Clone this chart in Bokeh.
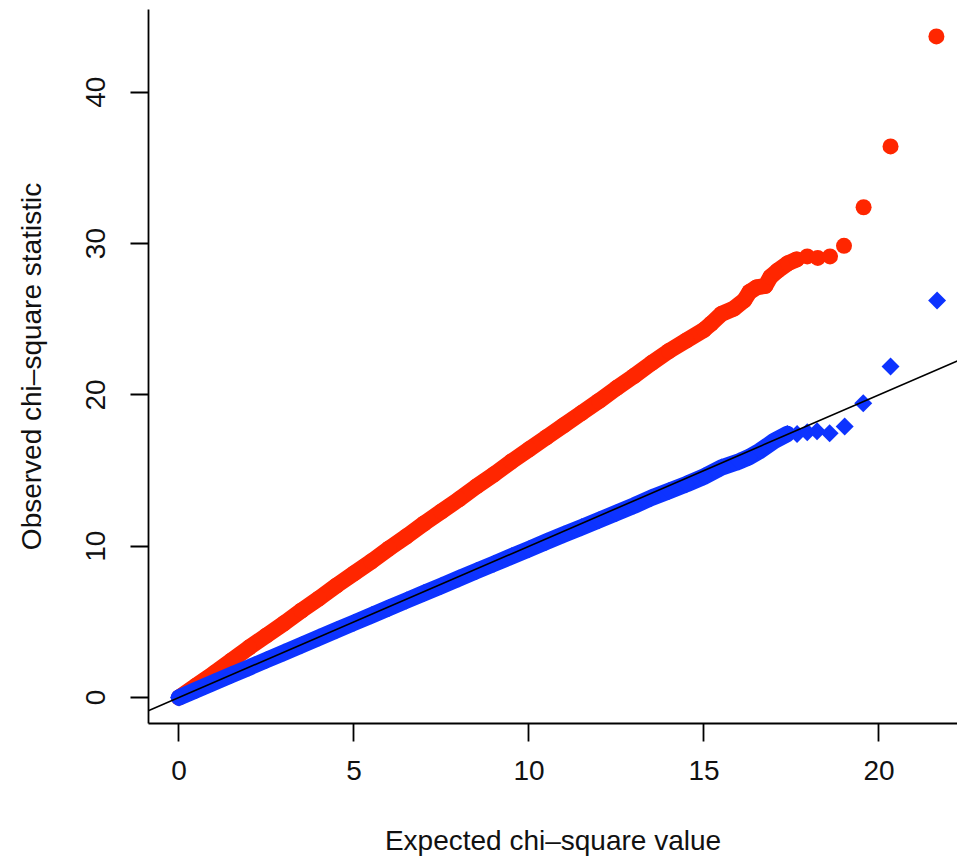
import numpy as np
from bokeh.plotting import figure
from bokeh.models import FixedTicker, Range1d, Slope
from bokeh.embed import file_html
from bokeh.resources import INLINE

# ---- data ----
red_expected = [0.0, 0.5, 1.0, 1.5, 2.0, 2.5, 3.0, 3.5, 4.0, 4.5, 5.0, 5.5, 6.0, 6.5,
                7.0, 7.5, 8.0, 8.5, 9.0, 9.5, 10.0, 10.5, 11.0, 11.5, 12.0, 12.5, 13.0,
                13.5, 14.0, 14.5, 15.0, 15.2, 15.5, 15.85, 16.15, 16.3, 16.5, 16.75,
                16.9, 17.1, 17.4, 17.65, 17.95, 18.25, 18.6, 19.0, 19.56, 20.33, 21.64]
red_observed = [0.0, 0.8, 1.6, 2.45, 3.3, 4.1, 4.9, 5.75, 6.55, 7.4, 8.2, 9.0, 9.85, 10.65,
                11.5, 12.3, 13.1, 13.95, 14.75, 15.6, 16.4, 17.2, 18.0, 18.8, 19.6, 20.45,
                21.25, 22.1, 22.9, 23.6, 24.3, 24.7, 25.35, 25.7, 26.25, 26.8, 27.1, 27.2,
                27.8, 28.2, 28.7, 28.95, 29.15, 29.05, 29.15, 29.85, 32.4, 36.42, 43.69]
red_dense_count = 42  # points that merge into a continuous band

blue_expected = [0.0, 0.5, 1.0, 1.5, 2.0, 2.5, 3.0, 3.5, 4.0, 4.5, 5.0, 5.5, 6.0, 6.5,
                 7.0, 7.5, 8.0, 8.5, 9.0, 9.5, 10.0, 10.5, 11.0, 11.5, 12.0, 12.5, 13.0,
                 13.5, 14.0, 14.5, 15.0, 15.5, 16.0, 16.3, 16.6, 17.0, 17.38, 17.66,
                 17.95, 18.23, 18.59, 19.02, 19.55, 20.33, 21.66]
blue_observed = [0.0, 0.5, 1.0, 1.5, 1.98, 2.48, 2.97, 3.46, 3.96, 4.45, 4.94, 5.43, 5.92,
                 6.41, 6.9, 7.38, 7.87, 8.36, 8.84, 9.33, 9.8, 10.3, 10.78, 11.25, 11.72,
                 12.2, 12.68, 13.2, 13.65, 14.1, 14.6, 15.2, 15.6, 15.9, 16.3, 16.95,
                 17.42, 17.42, 17.53, 17.6, 17.47, 17.91, 19.45, 21.88, 26.24]
blue_dense_count = 37

x_ticks = [0, 5, 10, 15, 20]
y_ticks = [0, 10, 20, 30, 40]
ref_gradient = 1.0
ref_intercept = 0.0

RED = "#ff2600"
BLUE = "#0d33ff"
FONT = "Liberation Sans"

p = figure(width=957, height=861, output_backend="svg", toolbar_location=None,
           x_range=Range1d(-0.8714, 22.243), y_range=Range1d(-1.718, 45.47),
           min_border_left=148, min_border_right=0, min_border_top=9,
           min_border_bottom=138)
p.frame_width = 809
p.frame_height = 714
p.outline_line_color = None
p.background_fill_color = "white"
p.border_fill_color = "white"
p.xgrid.visible = False
p.ygrid.visible = False

# red band + points
p.line(red_expected[:red_dense_count], red_observed[:red_dense_count], line_color=RED,
       line_width=16, line_cap="round", line_join="round")
p.scatter(red_expected, red_observed, marker="circle", size=16,
          fill_color=RED, line_color=None)

# blue band + points
p.line(blue_expected[:blue_dense_count], blue_observed[:blue_dense_count],
       line_color=BLUE, line_width=16.5, line_cap="round", line_join="round")
p.scatter(blue_expected, blue_observed, marker="square", angle=np.pi / 4, size=12.7,
          fill_color=BLUE, line_color=None)

p.add_layout(Slope(gradient=ref_gradient, y_intercept=ref_intercept,
                   line_color="black", line_width=1.6))

for ax in (p.xaxis[0], p.yaxis[0]):
    ax.axis_line_color = "black"
    ax.axis_line_width = 1.8
    ax.major_tick_line_color = "black"
    ax.major_tick_line_width = 1.8
    ax.major_tick_in = 0
    ax.major_tick_out = 18
    ax.minor_tick_line_color = None
    ax.major_label_text_font = FONT
    ax.major_label_text_font_size = "28px"
    ax.major_label_text_color = "#111111"
    ax.axis_label_text_font = FONT
    ax.axis_label_text_font_size = "28px"
    ax.axis_label_text_font_style = "normal"
    ax.axis_label_text_color = "#111111"

p.xaxis.ticker = FixedTicker(ticks=x_ticks)
p.yaxis.ticker = FixedTicker(ticks=y_ticks)
p.xaxis.axis_label = "Expected chi\u2013square value"
p.yaxis.axis_label = "Observed chi\u2013square statistic"
p.yaxis.major_label_orientation = "vertical"
p.xaxis.major_label_standoff = 19
p.yaxis.major_label_standoff = 25
p.xaxis.axis_label_standoff = 42
p.yaxis.axis_label_standoff = 37

open("out.html", "w").write(file_html(p, INLINE))
